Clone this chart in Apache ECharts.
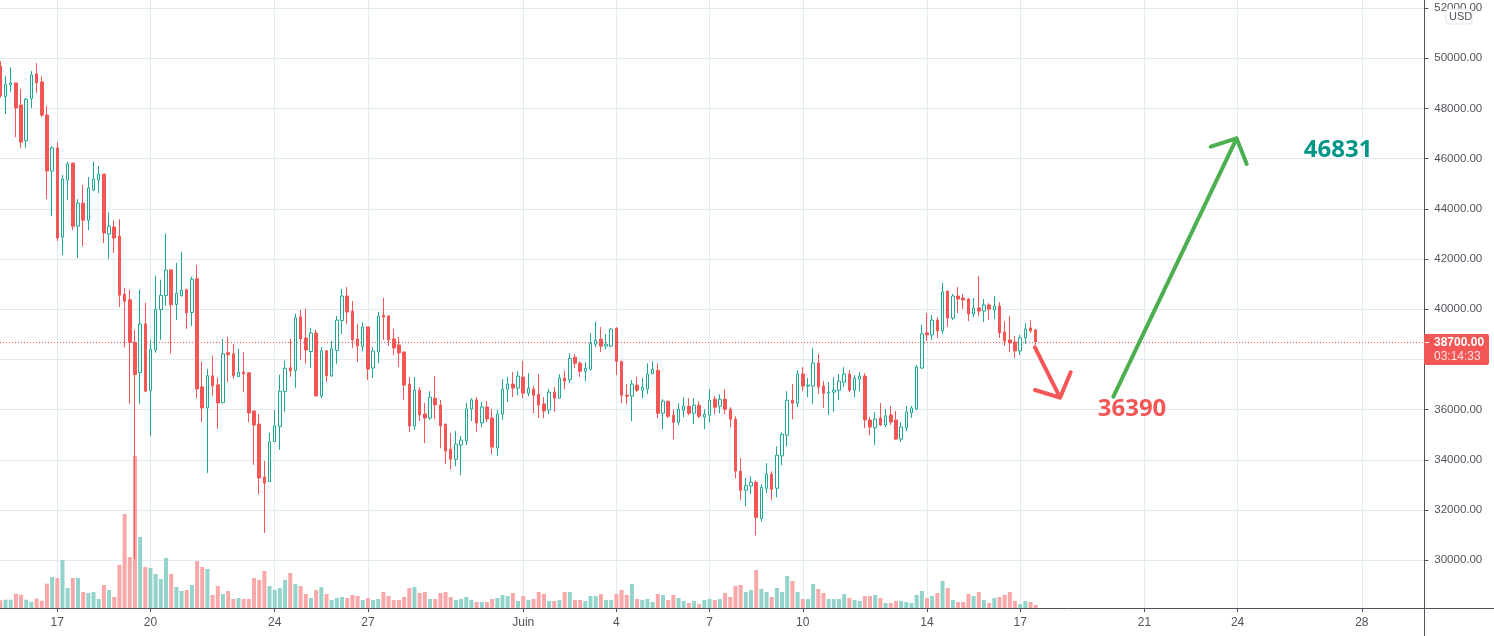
<!DOCTYPE html>
<html><head><meta charset="utf-8">
<style>html,body{margin:0;padding:0;background:#fff}#c{width:1494px;height:636px}</style>
<script src="https://cdn.jsdelivr.net/npm/echarts@6/dist/echarts.min.js"></script>
</head><body><div id="c"></div>
<script>
const opens=[49670,48470,48950,49020,48140,46720,48390,49380,49060,47740,
45510,46430,42880,45150,45830,43310,44230,43550,44750,45150,
45390,43000,43280,42920,40600,40380,38690,37480,39420,36760,
38380,39990,40550,41570,40190,40550,40780,39870,41220,36910,
36070,37350,36990,36280,38270,38230,37320,37500,37470,35950,
35430,33320,33140,34730,35330,36720,37670,37560,39700,38860,
38320,39060,36550,38350,37350,38360,39550,40530,39930,38820,
38510,39300,37660,38300,39770,39730,38820,38580,38300,37020,
35350,36780,35830,35670,36460,36190,35430,34430,34030,34590,
34760,36030,36390,35470,36110,35670,34480,35830,36820,37020,
36860,37300,36660,36820,36620,36230,35990,36700,36460,37260,
37200,38090,37850,37530,37610,38610,38810,38530,38530,39250,
37930,36580,36540,36980,36780,36820,37430,37570,35860,36340,
35780,35500,35980,36140,35860,36180,35710,35780,36420,36140,
36420,36020,35620,33550,32790,32960,33110,31670,32870,33430,
32870,34160,34980,36380,36260,37420,36940,36940,37860,36940,
36660,36700,36780,37100,37420,36780,37220,37340,35590,35280,
35670,35390,35790,35590,34830,35280,35870,36030,37660,39060,
38980,39570,39140,40730,39650,40530,40450,40410,39810,40050,
39930,40170,39970,40130,39100,38780,38700,38340,38860,39260,
39180];
const closes=[48510,48960,49020,48020,46660,48370,49340,49020,47740,45510,
46430,42840,45190,45790,43310,44230,43550,44830,45190,45390,
43040,43310,42840,40560,40320,38680,37400,39410,36740,38410,
40000,40560,41560,40180,40640,40760,39860,41200,36830,36070,
37350,36950,36270,38230,38190,37350,37490,37430,35870,35390,
33280,33080,34720,35360,36740,37650,37550,39660,38820,38380,
39060,36550,38350,37350,38430,39570,40530,39890,38780,38540,
39300,37620,38340,39730,39690,38780,38460,38260,36980,35350,
36780,35790,35670,36500,36190,35350,34350,34030,34630,34790,
36030,36390,35470,36110,35630,34510,35830,36820,37020,36860,
37340,36660,36860,36580,36190,35950,36700,36460,37260,37140,
38040,37850,37530,37650,38650,38770,38530,38610,39210,37930,
36580,36540,37020,36780,36900,37420,37610,35860,36340,35740,
35500,36020,36140,35860,36180,35740,35820,36380,36100,36420,
36020,35620,33550,32790,32980,33110,31710,32910,33430,32830,
34190,35020,36380,36260,37420,36940,36980,37860,36900,36660,
36700,36780,37140,37420,36780,37260,37340,35590,35310,35630,
35390,35750,35510,34830,35310,35910,36070,37700,39020,38980,
39570,39140,40690,39650,40530,40410,40370,39810,40050,39930,
40170,40010,40130,39060,38740,38660,38340,38860,39220,39140,
38700];
const lows=[48430,47780,48660,46860,46430,46430,48020,48620,47660,44390,
43710,42720,42160,44350,43160,42040,42520,43160,44710,44630,
42640,42000,42240,40090,38490,36230,30050,36230,36700,34960,
38270,38780,40140,38230,39580,40500,39220,39340,36470,35510,
33480,36550,35240,36270,37110,37230,37310,36710,35510,33800,
32640,31090,33120,34720,34400,35910,37310,36870,37990,37830,
37670,36510,36470,37110,37310,37830,39020,39420,38460,37900,
38340,37180,37260,37860,38780,38540,38180,37700,36380,35110,
35190,35550,34670,35590,35630,34470,33830,33630,33750,33390,
34590,35550,35110,35310,35510,34230,34150,35590,36310,36500,
36580,36460,36540,35870,35670,35670,35830,35910,36450,36820,
37060,37650,37300,37140,37570,38490,38290,38410,38490,37380,
36260,36220,35540,36700,36460,36620,37420,35660,35220,35660,
34820,35380,35700,35780,35420,35660,35220,35500,35820,35860,
35820,35300,33270,32390,32150,32630,30990,31550,32670,32390,
32510,33790,34540,35620,36100,36740,36500,36230,36620,36070,
35790,35910,36380,36900,36700,36500,36740,35270,34990,34590,
35350,35310,35390,34790,34710,35150,35670,35990,37620,38740,
38780,38860,39020,39300,39570,39850,40010,39530,39690,39730,
39490,39570,39610,38860,38540,38300,38060,38180,38620,39060,
38580];
const highs=[49890,49300,49640,49020,48780,48420,49490,49810,49300,48100,
46510,46660,45350,45870,45830,44390,44950,45270,45870,45710,
45390,43870,43550,43590,40840,40780,39180,40780,40260,38780,
41340,41180,43010,41570,41850,42290,40820,41300,41770,37910,
37630,38150,37270,38820,38900,38620,38420,38300,37470,35950,
35830,33960,35080,35990,37390,37950,38820,39820,39980,40020,
39260,39180,38500,38350,38740,39740,40810,40890,40330,39420,
39490,39300,38500,39890,40450,39770,39220,38900,38300,37300,
37300,36900,36270,36740,37340,36390,35430,35070,35150,34950,
36270,36460,36500,36310,36350,36030,35990,37220,37300,37500,
37540,37940,37460,36940,37420,36500,36820,36900,37420,37540,
38250,38210,37930,37890,39050,39490,39290,39010,39250,39290,
37930,37020,37180,37300,37260,37850,37930,37850,36420,36340,
36020,36260,36500,36460,36460,36340,36020,36820,36540,36620,
36820,36100,35740,34070,33270,33350,33190,33030,33870,33550,
34540,35100,36740,37020,37570,37700,37260,38460,38220,37140,
37100,37300,37420,37700,37580,37380,37500,37460,35710,35910,
36270,36030,36150,35950,35510,36150,36150,37780,39380,39850,
39770,39690,41050,40730,40610,40890,40610,40450,40450,41330,
40410,40250,40530,40290,39530,39730,38940,38980,39450,39570,
39220];
const volumes=[7.7,8.3,8.3,14.3,13.3,8.3,6.3,9.3,7.3,24.3,
31,30,48,20,30,30,16,15,16,9,
23,18,11,43,94,51,152,71,41,40,
34,29,50,34,21,17,18,23,47,41,
39,13,22,14,17,9,10,9,9,30,
28,37,22,18,20,28,35,24,22,14,
10,18,21,14,8,10,11,10,13,12,
8,10,8,9,16,12,8,8,11,20,
21,15,16,9,9,15,16,11,8,9,
11,8,6,6,6,9,10,13,12,15,
7,12,8,9,16,14,7,7,8,16,
16,8,8,7,12,12,14,8,8,14,
18,13,24,9,8,9,6,14,13,8,
13,10,7,5,7,4,8,9,8,9,
15,11,22,23,16,18,38,19,16,11,
20,16,32,27,16,9,9,24,19,15,
9,9,9,14,10,8,7,12,12,13,
10,5,5,7,7,6,5,13,17,10,
12,15,27,20,8,6,6,14,12,16,
8,5,10,11,13,16,7,4,7,6,
3];
const tickBars=[11,29,53,71,101,119,137,155,179,197,221,239,263];
const tickLabels=['17','20','24','27','Juin','4','7','10','14','17','21','24','28'];
const priceTicks=[30000,32000,34000,36000,38000,40000,42000,44000,46000,48000,50000,52000];
const lastPrice=38700;
const countdown='03:14:33';
const upArrow=[[215,36518],[238.8,46813],'-',[233.8,46478],[238.8,46813],[240.75,45789]];
const downArrow=[[199.85,38486],[204.7,36478],'-',[199.85,36785],[204.7,36478],[206.75,37490]];
const upTarget=[[258.4,46340,'46831']];
const downTarget=[[218.6,36040,'36390']];

const RED='#f45555',GREEN='#1fa896',AXIS='#50535e',GRID='#e1ecf2';
const VOLR='#f8a8a8',VOLG='#92d3cb';
const FONT='"Liberation Sans",Arial,sans-serif';
const candles=opens.map((o,i)=>[i,o,closes[i],lows[i],highs[i]]);
const vols=volumes.map((v,i)=>({value:[i,v],itemStyle:{color:closes[i]>=opens[i]?VOLG:VOLR}}));
const chart=echarts.init(document.getElementById('c'),null,{renderer:'canvas'});
chart.setOption({
 animation:false,
 grid:{left:0,top:0,width:1424.3,height:608,containLabel:false},
 xAxis:{type:'value',min:-0.068,max:275.06,
  axisLine:{onZero:false,lineStyle:{color:AXIS,width:1}},
  axisTick:{show:true,length:4,customValues:tickBars,lineStyle:{color:AXIS}},
  splitLine:{show:true,customValues:tickBars,lineStyle:{color:GRID,width:1}},
  axisLabel:{customValues:tickBars,showMinLabel:true,showMaxLabel:true,margin:9,color:AXIS,fontFamily:FONT,fontSize:12,
   formatter:v=>tickLabels[tickBars.indexOf(Math.round(v))]||''}},
 yAxis:[{type:'value',position:'right',min:28100,max:52323,scale:true,
  axisLine:{show:true,onZero:false,lineStyle:{color:AXIS,width:1}},
  axisTick:{show:true,length:4,customValues:priceTicks,lineStyle:{color:AXIS}},
  splitLine:{show:true,customValues:priceTicks,lineStyle:{color:GRID,width:1}},
  axisLabel:{customValues:priceTicks,margin:10,padding:[4,0,0,0],color:AXIS,fontFamily:FONT,fontSize:11.5,formatter:v=>v.toFixed(2)}},
  {type:'value',min:0,max:608,show:false,splitLine:{show:false}}],
 series:[
  {type:'bar',name:'Volume',yAxisIndex:1,data:vols,barWidth:4,z:1,silent:true},
  {type:'candlestick',name:'BTCUSD',data:candles,barWidth:3,z:3,clip:true,
   itemStyle:{color:'#ffffff',color0:RED,borderColor:GREEN,borderColor0:RED,borderWidth:1},
   markLine:{silent:true,symbol:'none',label:{show:false},z:2,
    lineStyle:{color:RED,type:[1,2],width:1},data:[{yAxis:lastPrice}]}},
  {type:'line',data:upArrow,symbol:'none',connectNulls:false,z:5,lineStyle:{color:'#4caf50',width:4,cap:'round',join:'round'},silent:true},
  {type:'line',data:downArrow,symbol:'none',connectNulls:false,z:5,lineStyle:{color:RED,width:4,cap:'round',join:'round'},silent:true},
  {type:'scatter',data:upTarget,symbolSize:0,z:6,silent:true,itemStyle:{opacity:1},
   label:{show:true,position:'inside',formatter:p=>p.value[2],color:'#009688',fontWeight:'bold',fontSize:24,fontFamily:'"Noto Sans",sans-serif'}},
  {type:'scatter',data:downTarget,symbolSize:0,z:6,silent:true,itemStyle:{opacity:1},
   label:{show:true,position:'inside',formatter:p=>p.value[2],color:RED,fontWeight:'bold',fontSize:24,fontFamily:'"Noto Sans",sans-serif'}}
 ],
 graphic:[
  {type:'line',silent:true,z:10,shape:{x1:1424.5,y1:608,x2:1424.5,y2:636},style:{stroke:AXIS,lineWidth:1}},
  {type:'line',silent:true,z:10,shape:{x1:1424,y1:608.5,x2:1494,y2:608.5},style:{stroke:AXIS,lineWidth:1}},
  {type:'rect',silent:true,z:10,shape:{x:1424,y:334,width:65,height:31,r:2},style:{fill:RED}},
  {type:'line',silent:true,z:11,shape:{x1:1425,y1:342.5,x2:1429,y2:342.5},style:{stroke:'#fff',lineWidth:1}},
  {type:'text',silent:true,z:11,x:1434,y:337,style:{text:lastPrice.toFixed(2),fill:'#fff',font:'bold 12px '+FONT}},
  {type:'text',silent:true,z:11,x:1434,y:351,style:{text:countdown,fill:'#fde0e0',font:'12px '+FONT}},
  {type:'rect',silent:true,z:11,shape:{x:1446,y:9,width:26,height:15,r:3},style:{fill:'#fff',stroke:'#e0e3eb',lineWidth:1}},
  {type:'text',silent:true,z:12,x:1449,y:11,style:{text:'USD',fill:AXIS,font:'11px '+FONT}}
 ]
});
</script></body></html>
